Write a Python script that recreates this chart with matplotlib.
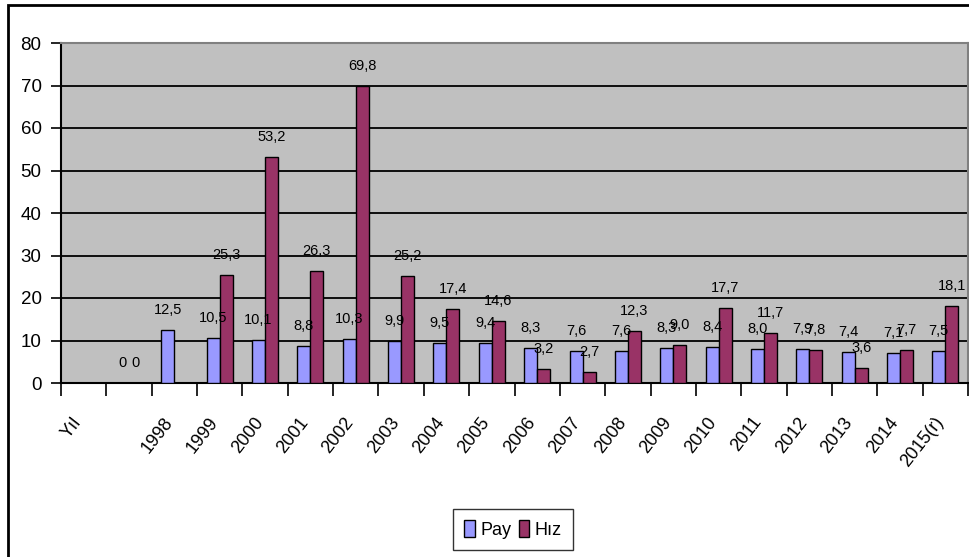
import numpy as np
import matplotlib
matplotlib.use("Agg")
import matplotlib.pyplot as plt
from matplotlib.patches import Rectangle
from matplotlib.transforms import ScaledTranslation

plt.rcParams['font.family'] = ['Liberation Sans', 'DejaVu Sans']

categories = ["Yıl", "", "1998", "1999", "2000", "2001", "2002", "2003", "2004",
              "2005", "2006", "2007", "2008", "2009", "2010", "2011", "2012",
              "2013", "2014", "2015(r)"]
pay = [np.nan, 0, 12.5, 10.5, 10.1, 8.8, 10.3, 9.9, 9.5, 9.4, 8.3, 7.6, 7.6,
       8.3, 8.4, 8.0, 7.9, 7.4, 7.1, 7.5]
hiz = [np.nan, 0, np.nan, 25.3, 53.2, 26.3, 69.8, 25.2, 17.4, 14.6, 3.2, 2.7,
       12.3, 9.0, 17.7, 11.7, 7.8, 3.6, 7.7, 18.1]
series_names = ["Pay", "Hız"]
colors = ["#9999FF", "#993366"]
yticks = [0, 10, 20, 30, 40, 50, 60, 70, 80]

W, H = 969, 557
fig = plt.figure(figsize=(W / 100, H / 100), dpi=100)
fig.patch.set_facecolor("white")

# outer chart border
fig.patches.append(Rectangle((8 / W, -0.1), 1.2, 1.1 - 4.8 / H,
                             transform=fig.transFigure, fill=False,
                             edgecolor="black", linewidth=2, clip_on=False))

ax = fig.add_axes([61 / W, 1 - 383 / H, (968 - 61) / W, (383 - 43) / H])
ax.set_facecolor("#C0C0C0")

x = np.arange(len(categories))
w = 0.287
for k, (vals, c) in enumerate(zip([pay, hiz], colors)):
    off = -w / 2 if k == 0 else w / 2
    vals_arr = np.array(vals, dtype=float)
    ax.bar(x + off, np.nan_to_num(vals_arr), width=w, color=c,
           edgecolor="black", linewidth=1.0, zorder=3, label=series_names[k])
    for xi, v in zip(x, vals_arr):
        if np.isnan(v):
            continue
        s = "0" if v == 0 else f"{v:.1f}".replace(".", ",")
        ax.annotate(s, (xi + off, v), xytext=(0, 13), textcoords="offset pixels",
                    ha="center", va="bottom", fontsize=10.5, zorder=5)

ax.set_ylim(0, 80)
ax.set_xlim(-0.5, len(categories) - 0.5)
ax.set_yticks(yticks)
ax.yaxis.grid(True, color="black", linewidth=1.3, zorder=1)
ax.set_axisbelow(True)
ax.tick_params(axis="y", direction="out", length=7, width=1.2, pad=7,
               labelsize=13.5, color="black")

# x ticks between categories, labels at centers
ax.set_xticks(np.arange(-0.5, len(categories), 1))
ax.set_xticklabels([])
ax.tick_params(axis="x", which="major", direction="out", length=9, width=1.2,
               color="black")
ax.set_xticks(x, minor=True)
ax.set_xticklabels(categories, minor=True, rotation=52, ha="right",
                   va="center", rotation_mode="anchor", fontsize=13)
ax.tick_params(axis="x", which="minor", length=0, pad=26)
for lab in ax.get_xticklabels(minor=True):
    lab.set_transform(lab.get_transform() +
                      ScaledTranslation(-0.05, 0, fig.dpi_scale_trans))

for side in ["left", "bottom"]:
    ax.spines[side].set_color("black")
    ax.spines[side].set_linewidth(1.5)
for side in ["top", "right"]:
    ax.spines[side].set_color("#808080")
    ax.spines[side].set_linewidth(1.5)

leg = fig.legend(loc="center", bbox_to_anchor=(513 / W, 1 - 529.5 / H),
                 ncol=2, fontsize=13, frameon=True, fancybox=False,
                 edgecolor="black", handlelength=0.6, handleheight=1.1,
                 handletextpad=0.3, columnspacing=0.4, borderpad=0.6,
                 borderaxespad=0)
leg.get_frame().set_linewidth(1.0)

fig.savefig("out.png", dpi=100)
